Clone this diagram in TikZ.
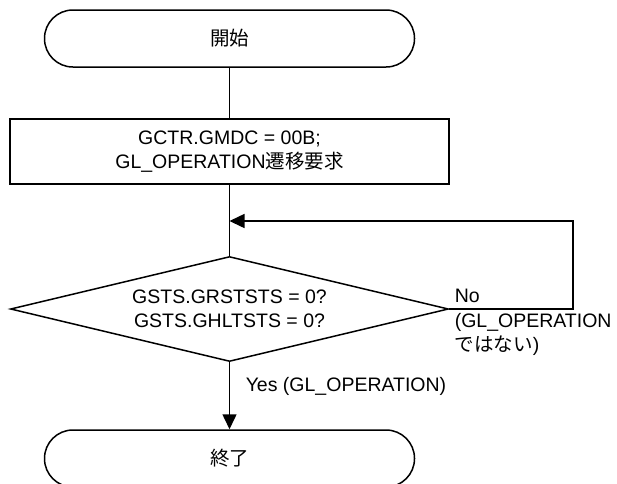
\documentclass[tikz,border=0pt]{standalone}
\usepackage{fontspec}
\setmainfont{Liberation Sans}
\newfontfamily\jp{Noto Sans CJK JP}
\usetikzlibrary{shapes.geometric,arrows.meta}
\begin{document}
\begin{tikzpicture}[x=1pt,y=-1pt,
  line width=1.5pt,
  every node/.style={font=\fontsize{19.5}{24}\selectfont},
  term/.style={draw,rectangle,rounded corners=28.4pt,minimum width=370pt,minimum height=57pt,inner sep=0pt},
  procbox/.style={draw,rectangle,minimum width=439pt,minimum height=65pt,inner sep=0pt,align=center},
  decide/.style={draw,diamond,aspect=4.17,minimum width=438pt,minimum height=105pt,inner sep=0pt,align=center},
  lbl/.style={inner sep=0pt,align=left},
  arr/.style={-{Triangle[length=15pt,width=14pt]}}
]
\fill[white] (0,0) rectangle (617,483);
\useasboundingbox (0,0) rectangle (617,483);

\node[term] (start) at (229.5,38.5) {\jp 開始};
\node[procbox] (proc) at (229.5,151.5) {GCTR.GMDC = 00B;\\GL\_OPERATION{\jp 遷移要求}};
\node[decide] (dec) at (229.5,309) {GSTS.GRSTSTS = 0?\\GSTS.GHLTSTS = 0?};
\node[term] (end) at (229.5,458.5) {\jp 終了};

\coordinate (join) at (229.5,221);
\coordinate (loopr) at (573,309);

\draw (start.south) -- (proc.north);
\draw (proc.south) -- (dec.north);
\draw[arr] (dec.east) -- (loopr) |- (join);
\draw[arr] (dec.south) -- (end.north);

\node[lbl,anchor=west] (nolbl) at (454,296) {No};
\node[lbl,anchor=north west] (nonote) at (454,313) {(GL\_OPERATION\\{\jp ではない}) };
\node[lbl,anchor=west] (yeslbl) at (245,386) {Yes (GL\_OPERATION)};
\end{tikzpicture}
\end{document}
